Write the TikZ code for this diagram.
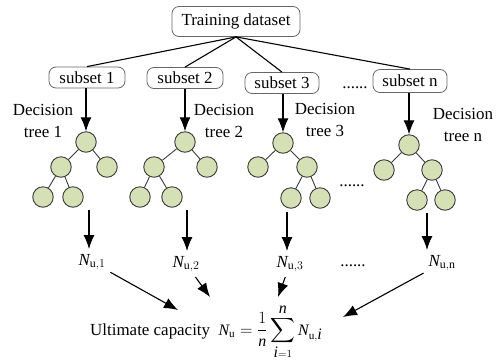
\documentclass[tikz,border=0pt]{standalone}
\usepackage{exscale}
\usepackage{fontspec}
\setmainfont{Liberation Serif}
\usetikzlibrary{arrows.meta}
\definecolor{leaf}{HTML}{D5E0B5}
\definecolor{edgegray}{HTML}{3A3A3A}
\newcommand{\Nit}{\textit{N}}
\begin{document}
\begin{tikzpicture}[x=1bp,y=-1bp,
  every node/.style={font=\rmfamily\fontsize{17}{22}\selectfont},
  box/.style={draw=gray!80!black, line width=0.8bp, rounded corners=7bp, inner sep=0pt, minimum height=21bp},
  leafnode/.style={circle, draw=edgegray, fill=leaf, line width=0.9bp, minimum size=20.5bp, inner sep=0pt},
  tedge/.style={draw=edgegray, line width=0.9bp},
  link/.style={line width=1.1bp, black},
  arr/.style={line width=1.1bp, black, -{Latex[length=14bp,width=11bp]}},
  lab/.style={align=center, inner sep=0pt},
  nlab/.style={inner sep=0pt, outer sep=5bp}
]
\useasboundingbox (0,0) rectangle (496,361);

% top boxes
\node[box, minimum width=128bp, minimum height=30bp] (td) at (236,21.5) {Training dataset};
\node[box, minimum width=76bp] (s1) at (87,77.5) {subset 1};
\node[box, minimum width=76bp] (s2) at (185,78) {subset 2};
\node[box, minimum width=74bp] (s3) at (282,83) {subset 3};
\node[box, minimum width=74bp, minimum height=23bp] (sn) at (410,81) {subset n};
\node[inner sep=0pt, anchor=base] (dots1) at (355,88) {......};

\foreach \s in {s1,s2,s3,sn} \draw[link] (td.south) -- (\s.north);

% trees
\node[leafnode] (r1) at (86,142) {};
\node[leafnode] (a1) at (61,167) {};
\node[leafnode] (b1) at (107,167) {};
\node[leafnode] (c1) at (43,197) {};
\node[leafnode] (d1) at (73,197) {};

\node[leafnode] (r2) at (185,142) {};
\node[leafnode] (a2) at (154,167) {};
\node[leafnode] (b2) at (207,167) {};
\node[leafnode] (c2) at (140,197) {};
\node[leafnode] (d2) at (172,197) {};

\node[leafnode] (r3) at (283,143) {};
\node[leafnode] (a3) at (258,167) {};
\node[leafnode] (b3) at (307,167) {};
\node[leafnode] (c3) at (291,198) {};
\node[leafnode] (d3) at (320,198) {};

\node[leafnode] (r4) at (409,145) {};
\node[leafnode] (a4) at (384,170) {};
\node[leafnode] (b4) at (432,170) {};
\node[leafnode] (c4) at (417,200) {};
\node[leafnode] (d4) at (445,200) {};

\draw[tedge] (r1)--(a1) (r1)--(b1) (a1)--(c1) (a1)--(d1);
\draw[tedge] (r2)--(a2) (r2)--(b2) (a2)--(c2) (a2)--(d2);
\draw[tedge] (r3)--(a3) (r3)--(b3) (b3)--(c3) (b3)--(d3);
\draw[tedge] (r4)--(a4) (r4)--(b4) (b4)--(c4) (b4)--(d4);

\node[inner sep=0pt, anchor=base] (dots2) at (352,186) {......};

% subset -> tree arrows
\draw[arr] (s1.south -| r1) -- (r1.north);
\draw[arr] (s2.south -| r2) -- (r2.north);
\draw[arr] (s3.south -| r3) -- (r3.north);
\draw[arr] (sn.south -| r4) -- (r4.north);

% labels
\node[lab] (dt1) at (43,121) {Decision\\tree 1};
\node[lab] (dt2) at (224,121) {Decision\\tree 2};
\node[lab] (dt3) at (325,120) {Decision\\tree 3};
\node[lab] (dt4) at (463,125) {Decision\\tree n};

% N labels
\node[nlab] (N1) at (92,262) {$\Nit_{\mathrm{u},1}$};
\node[nlab] (N2) at (186,264) {$\Nit_{\mathrm{u},2}$};
\node[nlab] (N3) at (290,264) {$\Nit_{\mathrm{u},3}$};
\node[nlab] (N4) at (442,263) {$\Nit_{\mathrm{u},\mathrm{n}}$};
\node[inner sep=0pt, anchor=base] (dots3) at (353,266) {......};

% tree -> N arrows
\coordinate (u1) at (89,210);
\coordinate (u2) at (187,210);
\coordinate (u3) at (287,212);
\coordinate (u4) at (427,213);
\draw[arr] (u1) -- (u1 |- N1.north);
\draw[arr] (u2) -- (u2 |- N2.north);
\draw[arr] (u3) -- (u3 |- N3.north);
\draw[arr] (u4) -- (u4 |- N4.north);

% formula
\node[inner sep=0pt, anchor=base west] (form) at (90,335)
  {Ultimate capacity\ \ {\fontsize{16}{19}\selectfont$\Nit_{\mathrm{u}}=\displaystyle\frac{1}{\textit{n}}\sum_{\textit{i}=1}^{\textit{n}}\Nit_{\mathrm{u},\textit{i}}$}};
\coordinate (f1) at (178,310);
\coordinate (f2) at (210,297);
\coordinate (f3) at (278,297);
\coordinate (f4) at (343,317);
\draw[arr] (N1) -- (f1);
\draw[arr] (N2) -- (f2);
\draw[arr] (N3) -- (f3);
\draw[arr] (N4) -- (f4);
\end{tikzpicture}
\end{document}
